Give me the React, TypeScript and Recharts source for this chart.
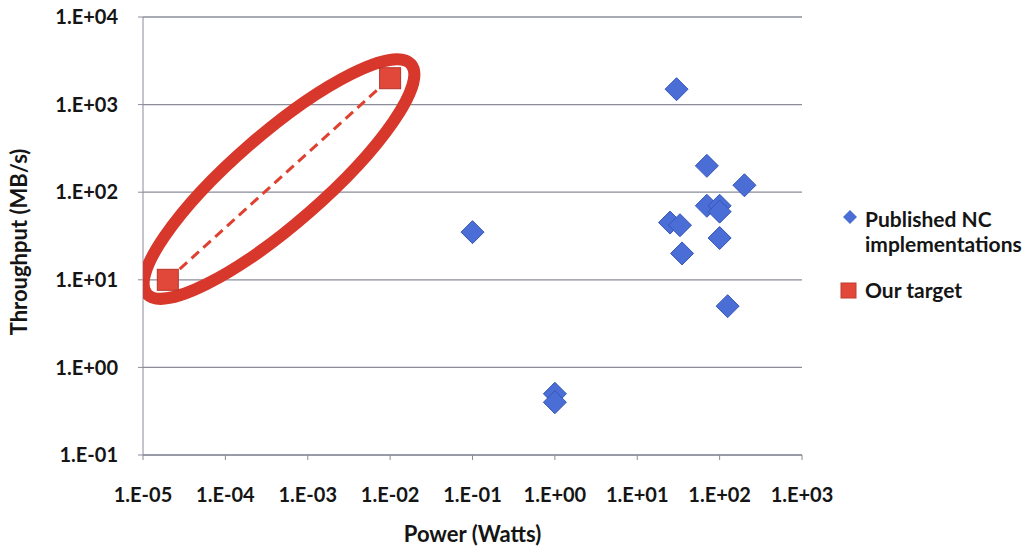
import React from "react";
import {
  ScatterChart, Scatter, XAxis, YAxis, CartesianGrid, Legend, Label,
} from "recharts";

// published network-coding implementations (power W, throughput MB/s)
const pubPower = [30, 70, 200, 70, 100, 100, 25, 33, 100, 35, 0.1, 125, 1, 1];
const pubThroughput = [1500, 200, 120, 70, 70, 60, 45, 42, 30, 20, 35, 5, 0.5, 0.4];

const targetPower = [2e-5, 1e-2];
const targetThroughput = [10, 2000];

const xTicks = [1e-5, 1e-4, 1e-3, 1e-2, 1e-1, 1e0, 1e1, 1e2, 1e3];
const yTicks = [1e-1, 1e0, 1e1, 1e2, 1e3, 1e4];

const published = pubPower.map((x, i) => ({ x, y: pubThroughput[i] }));
const target = targetPower.map((x, i) => ({ x, y: targetThroughput[i] }));
// the highlight ellipse sits at the (log) middle of the target line
const geoMean = (a: number[]) => Math.sqrt(a[0] * a[1]);
const highlight = [{ x: geoMean(targetPower), y: geoMean(targetThroughput) }];

const FONT = "Lato, 'Open Sans', sans-serif";
const GRID = "#8a8c9a";
const BLUE = "#4a6ed6";
const RED = "#e2483a";
const INK = "#151515";

const sciFmt = (v: number) => {
  const e = Math.round(Math.log10(v));
  return `1.E${e < 0 ? "-" : "+"}${String(Math.abs(e)).padStart(2, "0")}`;
};

const tickStyle = { fontSize: 20, fontWeight: 700, fill: INK, fontFamily: FONT };
const titleStyle = { fontSize: 22, fontWeight: 700, fill: INK, fontFamily: FONT };

const Diamond = (props: any) => {
  const { cx, cy } = props;
  const r = 11.5;
  return (
    <polygon
      points={`${cx},${cy - r} ${cx + r},${cy} ${cx},${cy + r} ${cx - r},${cy}`}
      fill={BLUE}
      stroke="#3656b8"
      strokeWidth={1}
    />
  );
};

const Square = (props: any) => {
  const { cx, cy } = props;
  const s = 10.5;
  return (
    <rect x={cx - s} y={cy - s} width={2 * s} height={2 * s} fill={RED} stroke="#b5322a" strokeWidth={1} />
  );
};

const Ellipse = (props: any) => {
  const { cx, cy } = props;
  return (
    <ellipse
      cx={cx}
      cy={cy}
      rx={175}
      ry={45}
      fill="none"
      stroke="#d8382b"
      strokeWidth={12}
      transform={`rotate(-41 ${cx} ${cy})`}
    />
  );
};

const YTitle = (props: any) => {
  const { viewBox } = props;
  const x = viewBox.x + 27;
  const y = viewBox.y + viewBox.height / 2 + 6;
  return (
    <text x={x} y={y} transform={`rotate(-90 ${x} ${y})`} textAnchor="middle" style={titleStyle}>
      Throughput (MB/s)
    </text>
  );
};

const renderLegend = () => (
  <div style={{ fontFamily: FONT, fontWeight: 700, fontSize: 21, lineHeight: "25px", color: INK }}>
    <div style={{ display: "flex" }}>
      <svg width={25} height={25} style={{ flex: "none" }}>
        <polygon points="10,4 17,11 10,18 3,11" fill={BLUE} />
      </svg>
      <div>Published NC<br />implementations</div>
    </div>
    <div style={{ display: "flex", marginTop: 21 }}>
      <svg width={25} height={25} style={{ flex: "none" }}>
        <rect x={1} y={6} width={15} height={15} fill={RED} stroke="#c23a2c" />
      </svg>
      <div>Our target</div>
    </div>
  </div>
);

export default function App() {
  return (
    <div style={{ position: "absolute", left: 0, top: 0, width: 1034, height: 552, background: "#fff" }}>
      <ScatterChart width={1034} height={552} margin={{ top: 17, right: 232, bottom: 0, left: 0 }}>
        <CartesianGrid vertical={false} stroke={GRID} strokeWidth={1.3} />
        <XAxis
          dataKey="x"
          type="number"
          scale="log"
          domain={[1e-5, 1e3]}
          ticks={xTicks}
          interval={0}
          tickFormatter={sciFmt}
          height={97}
          tick={tickStyle}
          tickSize={5}
          tickMargin={28}
          stroke={GRID}
          allowDataOverflow
        >
          <Label value="Power (Watts)" position="insideBottom" offset={10} style={titleStyle} />
        </XAxis>
        <YAxis
          dataKey="y"
          type="number"
          scale="log"
          domain={[1e-1, 1e4]}
          ticks={yTicks}
          interval={0}
          tickFormatter={sciFmt}
          width={143}
          tick={tickStyle}
          tickSize={5}
          tickMargin={20}
          stroke={GRID}
          allowDataOverflow
        >
          <Label content={<YTitle />} />
        </YAxis>
        <Legend
          content={renderLegend}
          layout="horizontal"
          verticalAlign="middle"
          wrapperStyle={{ left: 840, top: 206, width: 194 }}
        />
        <Scatter
          name="Published NC implementations"
          data={published}
          shape={<Diamond />}
          isAnimationActive={false}
        />
        <Scatter name="highlight" data={highlight} shape={<Ellipse />} legendType="none" isAnimationActive={false} />
        <Scatter
          name="Our target"
          data={target}
          shape={<Square />}
          line={{ stroke: "#e0402f", strokeWidth: 3, strokeDasharray: "10 6" }}
          isAnimationActive={false}
        />
      </ScatterChart>
    </div>
  );
}
